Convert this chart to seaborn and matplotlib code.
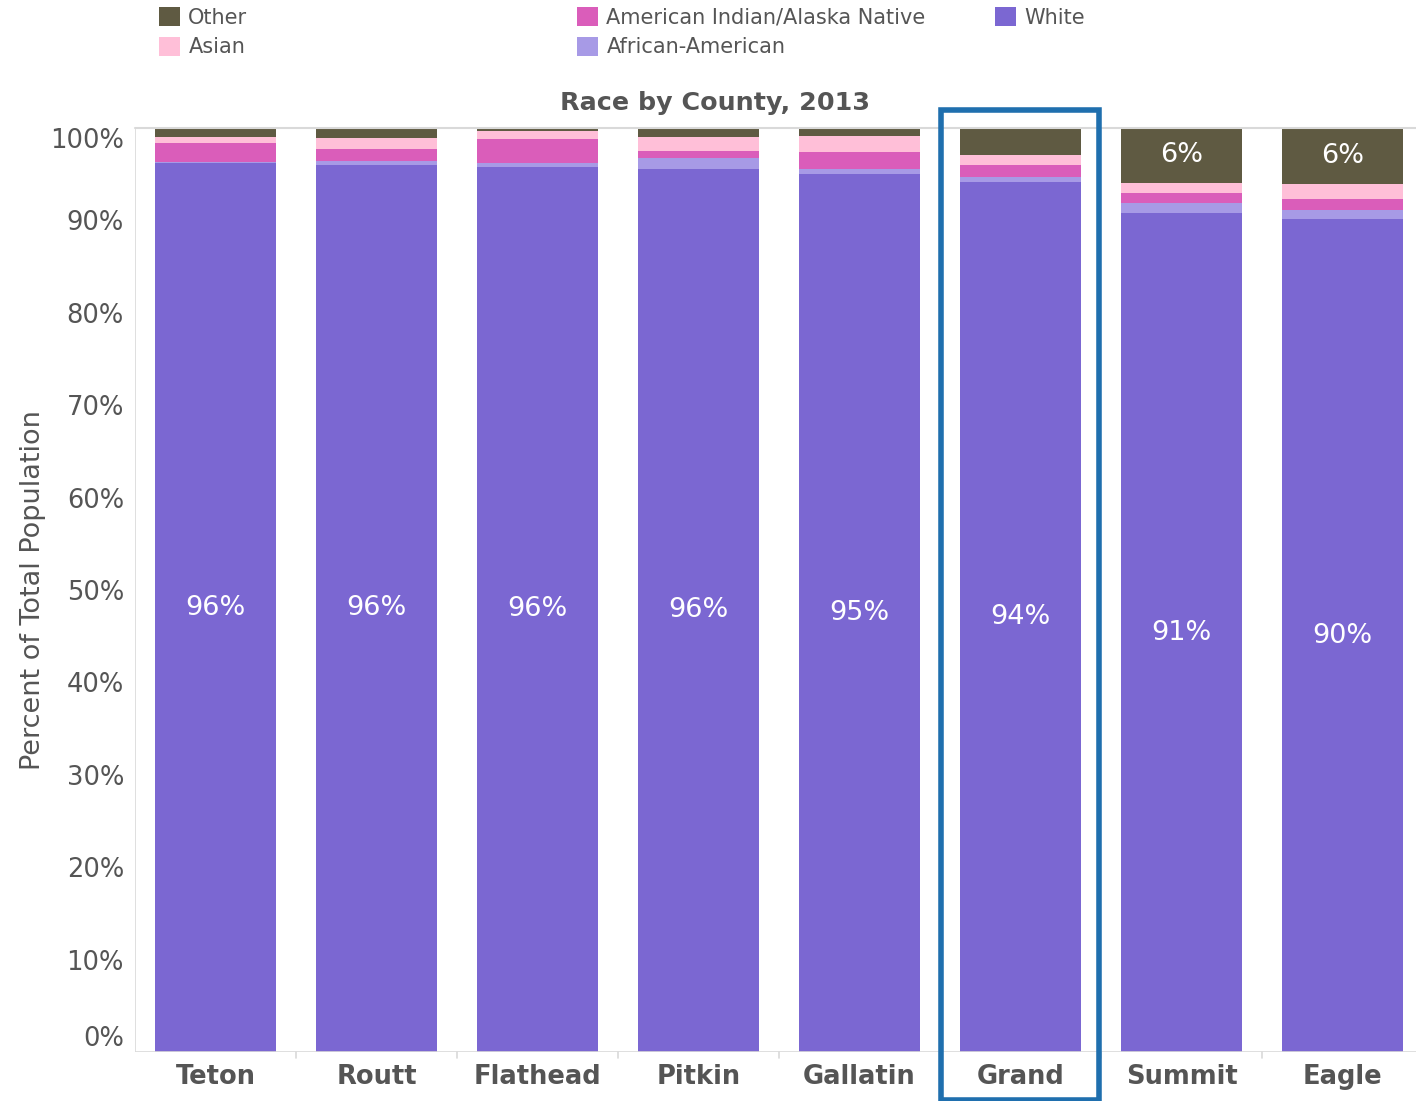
import numpy as np
import pandas as pd
import matplotlib
matplotlib.use("Agg")
import matplotlib.pyplot as plt
from matplotlib.patches import Rectangle, Patch
import seaborn as sns

counties = ["Teton", "Routt", "Flathead", "Pitkin", "Gallatin", "Grand", "Summit", "Eagle"]
white = [96.2, 96.0, 95.8, 95.6, 95.0, 94.2, 90.8, 90.1]
african_american = [0.1, 0.4, 0.4, 1.1, 0.6, 0.5, 1.1, 1.0]
american_indian = [2.1, 1.3, 2.6, 0.8, 1.8, 1.3, 1.1, 1.2]
asian = [0.6, 1.2, 0.9, 1.5, 1.7, 1.1, 1.1, 1.6]
other = [1.0, 1.1, 0.3, 1.0, 0.9, 2.9, 5.9, 6.1]

white_labels = ["96%", "96%", "96%", "96%", "95%", "94%", "91%", "90%"]
other_labels = ["", "", "", "", "", "", "6%", "6%"]

series = [
    ("White", white, "#7b67d2"),
    ("African-American", african_american, "#a79ae6"),
    ("American Indian/Alaska Native", american_indian, "#da5dba"),
    ("Asian", asian, "#ffbfd8"),
    ("Other", other, "#5f5a42"),
]

sns.set_style("white")
plt.rcParams["font.family"] = ["DejaVu Sans"]

fig = plt.figure(figsize=(14.16, 11.01), dpi=100)
ax = fig.add_axes([135/1416, 1 - 1052/1101, 1288/1416, (1052 - 128)/1101])

cum = np.zeros(len(counties))
cums = []
for name, vals, col in series:
    cum = cum + np.array(vals)
    cums.append((name, cum.copy(), col))

for name, c, col in reversed(cums):
    sns.barplot(x=counties, y=c, color=col, width=0.75, saturation=1,
                ax=ax, order=counties, edgecolor="none", linewidth=0)

ax.set_xlim(-0.5, 7.5)
ax.set_ylim(0, 100)

for i in range(len(counties)):
    ax.text(i, white[i] / 2, white_labels[i], ha="center", va="center",
            color="white", fontsize=19.5)
    if other_labels[i]:
        base = 100 - other[i]
        ax.text(i, base + other[i] / 2, other_labels[i], ha="center", va="center",
                color="white", fontsize=19.5)

gray = "#555555"
ticks = list(range(0, 101, 10))
ax.set_yticks(ticks)
ax.set_yticklabels([f"{t}%" for t in ticks], fontsize=18.5, color=gray)
labs = ax.get_yticklabels()
labs[0].set_va("bottom")
labs[-1].set_va("top")
ax.tick_params(axis="y", length=0, pad=8)
ax.tick_params(axis="x", length=0, pad=9)
ax.set_xticks(range(len(counties)))
ax.set_xticklabels(counties, fontsize=18.5, fontweight="bold", color=gray)
ax.set_xlabel("")
ax.set_ylabel("Percent of Total Population", fontsize=19.5, color=gray, labelpad=3)

for s in ["right", "bottom", "left", "top"]:
    ax.spines[s].set_visible(False)
ax.axhline(100, color="#d9d9d9", lw=1.5, clip_on=False)
ax.axvline(-0.5, color="#d9d9d9", lw=1.2)
ax.axhline(0, color="#d9d9d9", lw=1.2)
for k in range(1, len(counties)):
    ax.plot([k - 0.5, k - 0.5], [0, -0.6], color="#d9d9d9", lw=1.2, clip_on=False)

fig.text(715/1416, 1 - 103/1101, "Race by County, 2013", ha="center", va="center",
         fontsize=18.3, fontweight="bold", color=gray)

# highlight box around Grand
rect = Rectangle((4.506, -5.2), 0.98, 107.15, fill=False, edgecolor="#1f6fae",
                 linewidth=4, clip_on=False, zorder=10)
ax.add_patch(rect)

colmap = {n: c for n, _, c in series}
legend_cols = [
    (["Other", "Asian"], 155),
    (["American Indian/Alaska Native", "African-American"], 573),
    (["White"], 991),
]
for names, xpx in legend_cols:
    handles = [Patch(facecolor=colmap[n], edgecolor="none", label=n) for n in names]
    fig.legend(handles=handles, loc="upper left", bbox_to_anchor=(xpx/1416, 1 - 3/1101),
               frameon=False, fontsize=15, handlelength=1.0, handleheight=1.0,
               handletextpad=0.4, labelspacing=0.45, borderaxespad=0, borderpad=0.2,
               labelcolor=gray)

fig.savefig("out.png", dpi=100)
